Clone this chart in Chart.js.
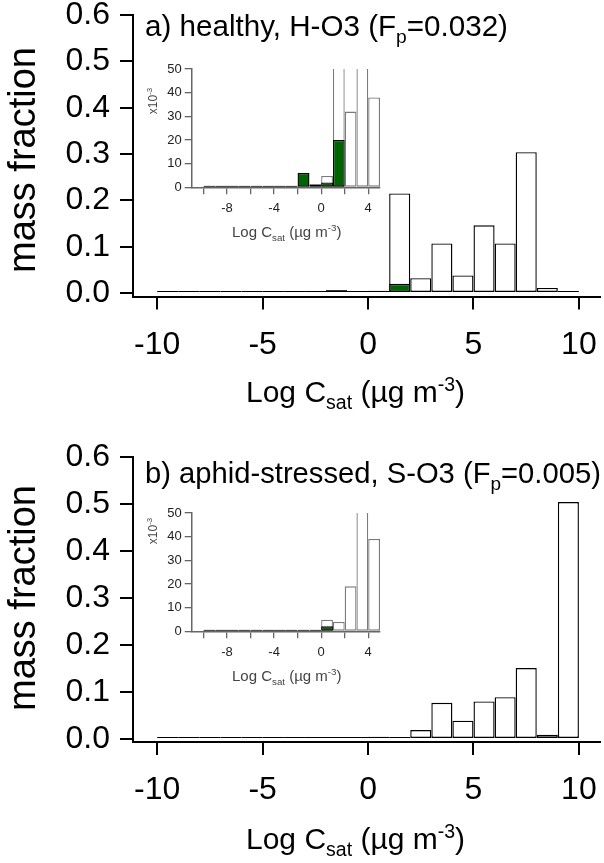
<!DOCTYPE html>
<html><head><meta charset="utf-8">
<script src="https://cdn.jsdelivr.net/npm/chart.js@4.4.1/dist/chart.umd.min.js"></script>
<style>
html,body{margin:0;padding:0;background:#fff;}
body{width:604px;height:863px;position:relative;overflow:hidden;font-family:"Liberation Sans",Arial,sans-serif;}
canvas{position:absolute;}
.t{position:absolute;white-space:nowrap;color:#000;line-height:1;}
.t sub,.t sup{font-size:65%;line-height:0;}
.rot{transform:translate(-50%,-50%) rotate(-90deg);}
</style></head><body>
<canvas id="mainA" width="604" height="430" style="left:0;top:0"></canvas>
<canvas id="mainB" width="604" height="433" style="left:0;top:430px"></canvas>
<canvas id="insetA" width="250" height="200" style="left:140px;top:55px"></canvas>
<canvas id="insetB" width="250" height="200" style="left:140px;top:498.7px"></canvas>

<div class="t" style="left:145px;top:11px;font-size:29.6px">a) healthy, H-O3 (F<sub>p</sub>=0.032)</div>
<div class="t" style="left:145px;top:459px;font-size:29.2px">b) aphid-stressed, S-O3 (F<sub>p</sub>=0.005)</div>
<div class="t rot" style="left:22px;top:160px;font-size:38px">mass fraction</div>
<div class="t rot" style="left:22px;top:598px;font-size:38px">mass fraction</div>
<div class="t" style="left:246px;top:377px;font-size:30px">Log C<sub>sat</sub> (µg m<sup>-3</sup>)</div>
<div class="t" style="left:246px;top:824px;font-size:30px">Log C<sub>sat</sub> (µg m<sup>-3</sup>)</div>
<div class="t" style="left:232px;top:224px;font-size:15px;color:#444">Log C<sub>sat</sub> (µg m<sup>-3</sup>)</div>
<div class="t" style="left:232px;top:668px;font-size:15px;color:#444">Log C<sub>sat</sub> (µg m<sup>-3</sup>)</div>
<div class="t rot" style="left:153px;top:101px;font-size:12px;color:#444">x10<sup>-3</sup></div>
<div class="t rot" style="left:153px;top:531px;font-size:12px;color:#444">x10<sup>-3</sup></div>

<script>
// ---- data ----
const binCenters = [-9.5,-8.5,-7.5,-6.5,-5.5,-4.5,-3.5,-2.5,-1.5,-0.5,0.5,1.5,2.5,3.5,4.5,5.5,6.5,7.5,8.5,9.5];
const healthyTotal    = [0.0002,0.0002,0.0002,0.0002,0.0002,0.0002,0.0002,0.0007,0.006,0.0013,0.0048,0.215,0.032,0.107,0.038,0.146,0.107,0.304,0.011,0.004];
const healthyParticle = [0.0002,0.0002,0.0002,0.0002,0.0002,0.0002,0.0002,0.0007,0.006,0.0012,0.002,0.020,null,null,null,null,null,null,null,null];
const stressedTotal    = [0.0002,0.0002,0.0002,0.0002,0.0002,0.0002,0.0002,0.0002,0.0002,0.0005,0.0049,0.0039,0.019,0.077,0.039,0.080,0.089,0.151,0.009,0.504];
const stressedParticle = [0.0002,0.0002,0.0002,0.0002,0.0002,0.0002,0.0002,0.0002,0.0002,0.0005,0.0021,null,null,null,null,null,null,null,null,null];
const mainXTicks = [-10,-5,0,5,10];
const mainYTicks = [0,0.1,0.2,0.3,0.4,0.5,0.6];
const mainYTickLabels = ['0.0','0.1','0.2','0.3','0.4','0.5','0.6'];
const insetXTicks = [-10,-8,-6,-4,-2,0,2,4];
const insetXLabelled = [-8,-4,0,4];
const insetYTicks = [0,10,20,30,40,50];
const insetScale = 1000; // inset axis in units of x10^-3

const FONT = '"Liberation Sans", Arial, sans-serif';
Chart.defaults.font.family = FONT;

function pts(vals, k){ return binCenters.map((x,i)=>({x:x, y: vals[i]===null?null:vals[i]*k})); }

const barDefaults = {bar:{barPercentage:1, categoryPercentage:1, grouped:false}};

function mainChart(id, total, particle, L){
  const common = {grouped:false, barPercentage:1, categoryPercentage:1, minBarLength:2, inflateAmount:0,
    borderSkipped:false, borderWidth:1.4};
  return new Chart(document.getElementById(id), {
    type:'bar',
    data:{datasets:[
      Object.assign({data:pts(particle,1), backgroundColor:'#006400', borderColor:'#000'}, common),
      Object.assign({data:pts(total,1), backgroundColor:'#fff', borderColor:'#000'}, common)
    ]},
    options:{
      responsive:false, animation:false, events:[],
      datasets:barDefaults,
      layout:{padding:{top:L.top, right:4, left:0, bottom:0}},
      plugins:{legend:{display:false}, tooltip:{enabled:false}},
      scales:{
        x:{type:'linear', min:-11.15, max:11.0, offset:false,
          afterBuildTicks:s=>{s.ticks = mainXTicks.map(v=>({value:v}));},
          afterFit:s=>{s.height=L.xh; s.paddingLeft=0; s.paddingRight=0;},
          grid:{offset:false, drawOnChartArea:false, drawTicks:true, tickLength:13, color:'#000', lineWidth:2},
          border:{display:true, color:'#000', width:2},
          ticks:{font:{size:32}, color:'#000', padding:L.xpad, maxRotation:0, autoSkip:false, callback:v=>String(v)}},
        y:{type:'linear', min:L.ymin, max:0.6,
          afterBuildTicks:s=>{s.ticks = mainYTicks.map(v=>({value:v}));},
          afterFit:s=>{s.width=133; s.paddingTop=0; s.paddingBottom=0;},
          grid:{drawOnChartArea:false, drawTicks:true, tickLength:13, color:'#000', lineWidth:2},
          border:{display:true, color:'#000', width:2},
          ticks:{font:{size:32}, color:'#000', padding:10, autoSkip:false,
            callback:v=>{const i=mainYTicks.indexOf(v); return i<0?'':mainYTickLabels[i];}}}
      }
    }
  });
}

function insetChart(id, total, particle){
  const common = {grouped:false, barPercentage:1, categoryPercentage:1, minBarLength:1.5, inflateAmount:0,
    borderSkipped:false, borderWidth:1.3, clip:{left:4, top:0, right:0, bottom:4}};
  return new Chart(document.getElementById(id), {
    type:'bar',
    data:{datasets:[
      Object.assign({data:pts(particle,insetScale), backgroundColor:'#006400', borderColor:'#000'}, common),
      Object.assign({data:pts(total,insetScale), backgroundColor:'#fff', borderColor:'#7a7a7a'}, common)
    ]},
    options:{
      responsive:false, animation:false, events:[],
      datasets:barDefaults,
      layout:{padding:{top:14, right:10, left:0, bottom:0}},
      plugins:{legend:{display:false}, tooltip:{enabled:false}},
      scales:{
        x:{type:'linear', min:-11, max:5, offset:false,
          afterBuildTicks:s=>{s.ticks = insetXTicks.map(v=>({value:v}));},
          afterFit:s=>{s.height=67.7; s.paddingLeft=0; s.paddingRight=0;},
          grid:{offset:false, drawOnChartArea:false, drawTicks:true, tickLength:7, color:'#666', lineWidth:1.3},
          border:{display:true, color:'#666', width:1.5},
          ticks:{font:{size:13}, color:'#222', padding:6, maxRotation:0, autoSkip:false,
            callback:v=>insetXLabelled.includes(v)?String(v):''}},
        y:{type:'linear', min:0, max:50,
          afterBuildTicks:s=>{s.ticks = insetYTicks.map(v=>({value:v}));},
          afterFit:s=>{s.width=51.7; s.paddingTop=0; s.paddingBottom=0;},
          grid:{drawOnChartArea:false, drawTicks:true, tickLength:7, color:'#666', lineWidth:1.3},
          border:{display:true, color:'#666', width:1.5},
          ticks:{font:{size:13}, color:'#222', padding:3, autoSkip:false, callback:v=>String(v)}}
      }
    }
  });
}

mainChart('mainA', healthyTotal, healthyParticle, {top:15, xh:133.5, xpad:16, ymin:-0.0075});
mainChart('mainB', stressedTotal, stressedParticle, {top:27, xh:121, xpad:16, ymin:-0.0064});
insetChart('insetA', healthyTotal, healthyParticle);
insetChart('insetB', stressedTotal, stressedParticle);
</script>
</body></html>
